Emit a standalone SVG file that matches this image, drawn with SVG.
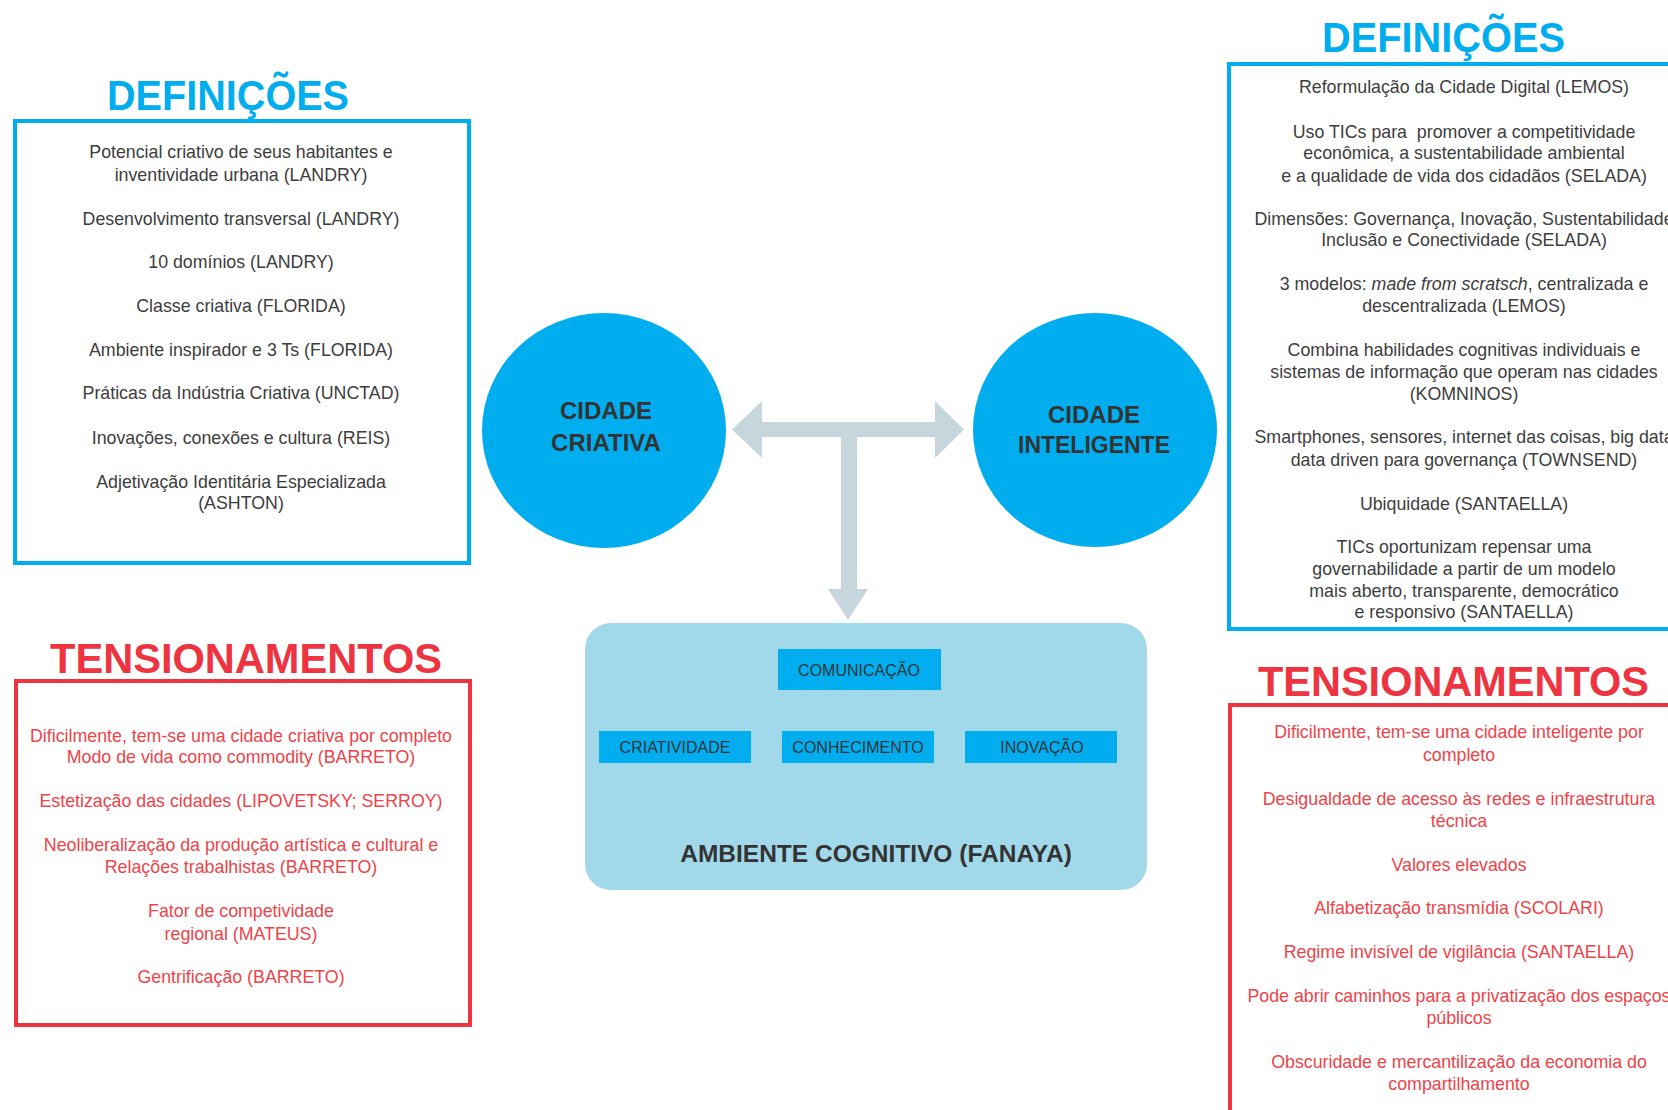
<svg xmlns="http://www.w3.org/2000/svg" width="1668" height="1110" viewBox="0 0 1668 1110">
<style>
.title{font-family:"Liberation Sans",Arial,sans-serif;font-weight:bold;font-size:42px;}
.tb{fill:#00AEEF;}
.tr{fill:#EE3440;}
.boxb{fill:none;stroke:#00AEEF;stroke-width:4;}
.boxr{fill:none;stroke:#EE3440;stroke-width:4;}
.body{font-family:"Liberation Sans",Arial,sans-serif;font-size:17.8px;text-anchor:middle;}
.dk{fill:#3d3d3d;}
.rd{fill:#EF4349;}
.circ{fill:#00AEEF;}
.ctext{font-family:"Liberation Sans",Arial,sans-serif;font-weight:bold;font-size:24px;fill:#333333;text-anchor:middle;}
.inner{fill:#00AEEF;}
.itext{font-family:"Liberation Sans",Arial,sans-serif;font-size:16px;fill:#2f3438;text-anchor:middle;}
.amb{fill:#A2D9EA;}
.conn{fill:#C7D5DD;}
</style>
<rect width="1668" height="1110" fill="#ffffff"/>

<g id="connectors">
<path class="conn" d="M732,429.5 L762,401 L762,422 L935,422 L935,401 L964,429.5 L935,458 L935,437 L857,437 L857,589 L868,589 L848,620 L828,589 L841,589 L841,437 L762,437 L762,458 Z"/>
</g>

<g id="def-left">
<text class="title tb" x="107" y="110" textLength="242" lengthAdjust="spacingAndGlyphs">DEFINIÇÕES</text>
<rect class="boxb" x="15" y="121" width="454" height="442"/>
<g class="body dk">
<text x="241" y="158">Potencial criativo de seus habitantes e</text>
<text x="241" y="181">inventividade urbana (LANDRY)</text>
<text x="241" y="225">Desenvolvimento transversal (LANDRY)</text>
<text x="241" y="268">10 domínios (LANDRY)</text>
<text x="241" y="312">Classe criativa (FLORIDA)</text>
<text x="241" y="356">Ambiente inspirador e 3 Ts (FLORIDA)</text>
<text x="241" y="399">Práticas da Indústria Criativa (UNCTAD)</text>
<text x="241" y="444">Inovações, conexões e cultura (REIS)</text>
<text x="241" y="488">Adjetivação Identitária Especializada</text>
<text x="241" y="509">(ASHTON)</text>
</g>
</g>

<g id="tens-left">
<text class="title tr" x="50" y="673" textLength="392" lengthAdjust="spacingAndGlyphs">TENSIONAMENTOS</text>
<rect class="boxr" x="16" y="681" width="454" height="344"/>
<g class="body rd">
<text x="241" y="742">Dificilmente, tem-se uma cidade criativa por completo</text>
<text x="241" y="763">Modo de vida como commodity (BARRETO)</text>
<text x="241" y="807">Estetização das cidades (LIPOVETSKY; SERROY)</text>
<text x="241" y="851">Neoliberalização da produção artística e cultural e</text>
<text x="241" y="873">Relações trabalhistas (BARRETO)</text>
<text x="241" y="917">Fator de competividade</text>
<text x="241" y="940">regional (MATEUS)</text>
<text x="241" y="983">Gentrificação (BARRETO)</text>
</g>
</g>

<g id="cidade-criativa">
<ellipse class="circ" cx="604" cy="430.5" rx="122" ry="117.5"/>
<text class="ctext" x="606" y="419">CIDADE</text>
<text class="ctext" x="606" y="451">CRIATIVA</text>
</g>

<g id="cidade-inteligente">
<ellipse class="circ" cx="1095" cy="430" rx="122" ry="117"/>
<text class="ctext" x="1094" y="423">CIDADE</text>
<text class="ctext" x="1094" y="453" textLength="152" lengthAdjust="spacingAndGlyphs">INTELIGENTE</text>
</g>

<g id="ambiente-cognitivo">
<rect class="amb" x="585" y="623" width="562" height="267" rx="26" ry="26"/>
<text class="ctext" x="876" y="862" style="font-size:24.5px">AMBIENTE COGNITIVO (FANAYA)</text>
</g>
<g id="comunicacao">
<rect class="inner" x="778" y="649" width="163" height="41"/>
<text class="itext" x="859" y="676">COMUNICAÇÃO</text>
</g>
<g id="criatividade">
<rect class="inner" x="599" y="731" width="152" height="32"/>
<text class="itext" x="675" y="753">CRIATIVIDADE</text>
</g>
<g id="conhecimento">
<rect class="inner" x="782" y="731" width="152" height="32"/>
<text class="itext" x="858" y="753">CONHECIMENTO</text>
</g>
<g id="inovacao">
<rect class="inner" x="965" y="731" width="152" height="32"/>
<text class="itext" x="1042" y="753">INOVAÇÃO</text>
</g>

<g id="def-right">
<text class="title tb" x="1322" y="52" textLength="243" lengthAdjust="spacingAndGlyphs">DEFINIÇÕES</text>
<rect class="boxb" x="1229" y="64" width="500" height="565"/>
<g class="body dk">
<text x="1464" y="93">Reformulação da Cidade Digital (LEMOS)</text>
<text x="1464" y="138" xml:space="preserve">Uso TICs para  promover a competitividade</text>
<text x="1464" y="159">econômica, a sustentabilidade ambiental</text>
<text x="1464" y="182">e a qualidade de vida dos cidadãos (SELADA)</text>
<text x="1464" y="225">Dimensões: Governança, Inovação, Sustentabilidade</text>
<text x="1464" y="246">Inclusão e Conectividade (SELADA)</text>
<text x="1464" y="290">3 modelos: <tspan font-style="italic">made from scratsch</tspan>, centralizada e</text>
<text x="1464" y="312">descentralizada (LEMOS)</text>
<text x="1464" y="356">Combina habilidades cognitivas individuais e</text>
<text x="1464" y="378">sistemas de informação que operam nas cidades</text>
<text x="1464" y="400">(KOMNINOS)</text>
<text x="1464" y="443">Smartphones, sensores, internet das coisas, big data</text>
<text x="1464" y="466">data driven para governança (TOWNSEND)</text>
<text x="1464" y="510">Ubiquidade (SANTAELLA)</text>
<text x="1464" y="553">TICs oportunizam repensar uma</text>
<text x="1464" y="575">governabilidade a partir de um modelo</text>
<text x="1464" y="597">mais aberto, transparente, democrático</text>
<text x="1464" y="618">e responsivo (SANTAELLA)</text>
</g>
</g>

<g id="tens-right">
<text class="title tr" x="1258" y="696" textLength="391" lengthAdjust="spacingAndGlyphs">TENSIONAMENTOS</text>
<rect class="boxr" x="1230" y="705" width="500" height="500"/>
<g class="body rd">
<text x="1459" y="738">Dificilmente, tem-se uma cidade inteligente por</text>
<text x="1459" y="761">completo</text>
<text x="1459" y="805">Desigualdade de acesso às redes e infraestrutura</text>
<text x="1459" y="827">técnica</text>
<text x="1459" y="871">Valores elevados</text>
<text x="1459" y="914">Alfabetização transmídia (SCOLARI)</text>
<text x="1459" y="958">Regime invisível de vigilância (SANTAELLA)</text>
<text x="1459" y="1002">Pode abrir caminhos para a privatização dos espaços</text>
<text x="1459" y="1024">públicos</text>
<text x="1459" y="1068">Obscuridade e mercantilização da economia do</text>
<text x="1459" y="1090">compartilhamento</text>
</g>
</g>
</svg>
